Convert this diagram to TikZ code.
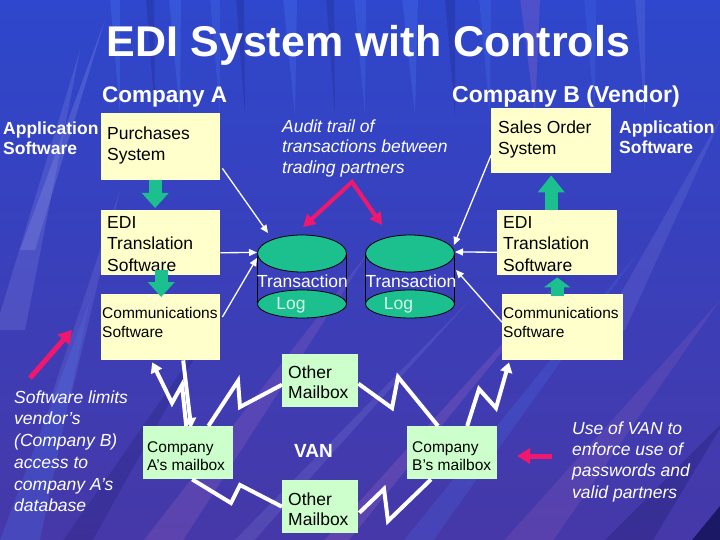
\documentclass[tikz,border=0pt]{standalone}
\usepackage{fontspec}
\setmainfont{Liberation Sans}
\usetikzlibrary{arrows.meta,calc}
\definecolor{boxy}{HTML}{FFFFCC}
\definecolor{boxg}{HTML}{CCFFCC}
\definecolor{tgreen}{HTML}{1CC08E}
\definecolor{pinkr}{HTML}{F0186E}
\definecolor{logc}{HTML}{D4F7EA}
\definecolor{bgt}{HTML}{2E47CC}
\definecolor{bgm}{HTML}{3F40B8}
\definecolor{bgb}{HTML}{4638A8}
\definecolor{lav}{HTML}{A6A8F2}
\definecolor{brightb}{HTML}{4A78F4}
\definecolor{pinkish}{HTML}{C078C8}
\definecolor{darkb}{HTML}{14145A}
% width, height, left indent, first baseline, size, leading, text
\newcommand\bxt[7]{\parbox[t][#2pt][t]{#1pt}{\fontsize{#5}{#6}\selectfont\raggedright\leftskip=#3pt\hyphenpenalty=10000\exhyphenpenalty=10000\rule{0pt}{#4pt}#7}}
\begin{document}
\begin{tikzpicture}[x=1pt,y=-1pt,
  ybox/.style={fill=boxy, inner sep=0pt, anchor=north west},
  gbox/.style={fill=boxg, inner sep=0pt, anchor=north west},
  ftext/.style={inner sep=0pt, text=white},
  garrow/.style={draw=tgreen, line width=13pt, -{Triangle[length=#1,width=26pt]}},
  garrow/.default=15pt,
  warrow/.style={draw=white, line width=1.3pt, -{Triangle[length=8pt,width=7pt]}},
  zz/.style={draw=white, line width=4pt, line join=miter},
  zztip/.style={-{Triangle[length=10pt,width=12pt]}},
  parrow/.style={draw=pinkr, line width=5pt, -{Triangle[length=13pt,width=15pt]}},
  parrowtwo/.style={draw=pinkr, line width=4pt, line join=miter, {Triangle[length=12pt,width=13pt]}-{Triangle[length=12pt,width=13pt]}},
  cylfill/.style={fill=tgreen, draw=black, line width=0.8pt},
]
\useasboundingbox (0,0) rectangle (720,540);
% ---------- background ----------
\shade[top color=bgt, middle color=bgm, bottom color=bgb] (0,0) rectangle (720,540);
\begin{scope}
\clip (0,0) rectangle (720,540);
% top vertical brush strokes
\foreach \x/\w/\c/\o in {115/5/brightb/.3, 150/4/darkb/.2, 175/6/brightb/.3, 215/5/brightb/.25, 240/4/darkb/.2,
    290/7/brightb/.3, 330/4/darkb/.18, 360/6/brightb/.28, 410/8/brightb/.3, 450/5/darkb/.2, 485/6/brightb/.25,
    530/10/pinkish/.22, 590/6/brightb/.22, 640/5/lav/.15}
  \fill[\c, opacity=\o] (\x-\w,-2) -- (\x+\w,-2) -- (\x+5,115) -- cycle;
% left lighter strokes
\fill[lav, opacity=.18] (-5,330) -- (25,330) -- (80,50) -- cycle;
\fill[lav, opacity=.22] (20,250) -- (35,250) -- (105,20) -- cycle;
\fill[lav, opacity=.15] (50,400) -- (70,400) -- (120,190) -- cycle;
\fill[brightb, opacity=.25] (0,540) -- (40,540) -- (90,300) -- cycle;
% lower diagonal strokes
\fill[pinkish, opacity=.18] (140,545) -- (180,545) -- (370,250) -- cycle;
\fill[pinkish, opacity=.2] (320,545) -- (345,545) -- (560,280) -- cycle;
\fill[pinkish, opacity=.15] (500,545) -- (550,545) -- (720,300) -- cycle;
\fill[lav, opacity=.15] (230,545) -- (250,545) -- (470,300) -- cycle;
\fill[lav, opacity=.14] (600,330) -- (625,330) -- (725,110) -- cycle;
\fill[brightb, opacity=.2] (400,545) -- (430,545) -- (640,250) -- cycle;
\fill[darkb, opacity=.25] (600,545) -- (650,545) -- (725,420) -- cycle;
\fill[darkb, opacity=.2] (60,545) -- (90,545) -- (210,330) -- cycle;
\fill[darkb, opacity=.85] (688,545) -- (725,545) -- (725,500) -- cycle;
\end{scope}
% ---------- titles ----------
\node[ftext, anchor=base] (title) at (368.5,57) {\fontsize{43}{50}\selectfont\bfseries EDI System with Controls};
\node[ftext, anchor=base west] (compa) at (102,103) {\fontsize{22.5}{26}\selectfont\bfseries Company A};
\node[ftext, anchor=base west] (compb) at (452,103) {\fontsize{23}{26}\selectfont\bfseries Company B (Vendor)};
\node[ftext, anchor=north west] (appa) at (3,115) {\bxt{100}{45}{0}{19.5}{17.5}{19.5}{\bfseries Application\\Software}};
\node[ftext, anchor=north west] (appb) at (619,114) {\bxt{100}{45}{0}{19.5}{17.5}{19.5}{\bfseries Application\\Software}};
\node[ftext, anchor=north west] (audit) at (282,113) {\bxt{200}{70}{0}{19}{17.5}{20.5}{\itshape Audit trail of\\transactions between\\trading partners}};
\node[ftext, anchor=north west] (limits) at (14,380) {\bxt{130}{140}{0}{23}{17.5}{21.7}{\itshape Software limits\\vendor’s\\(Company B)\\access to\\company A’s\\database}};
\node[ftext, anchor=north west] (usevan) at (572,410) {\bxt{140}{100}{0}{24}{17.5}{21.3}{\itshape Use of VAN to\\enforce use of\\passwords and\\valid partners}};
\node[ftext, anchor=base west] (van) at (294,457) {\fontsize{19}{22}\selectfont\bfseries VAN};
% ---------- boxes ----------
\node[ybox] (purch) at (101,113) {\bxt{119}{67}{6}{26}{17.5}{21}{Purchases\\System}};
\node[ybox] (edia) at (101,210) {\bxt{119}{65}{6}{18}{17.5}{21.5}{EDI\\Translation\\Software}};
\node[ybox] (comma) at (101,294) {\bxt{119}{66}{1}{24}{15.5}{19}{Communications\\Software}};
\node[ybox] (sales) at (491,108) {\bxt{120}{65}{7}{25}{17.5}{21}{Sales Order\\System}};
\node[ybox] (edib) at (497,210) {\bxt{120}{65}{6}{18}{17.5}{21.5}{EDI\\Translation\\Software}};
\node[ybox] (commb) at (502,294) {\bxt{121}{66}{1}{24}{15.5}{19}{Communications\\Software}};
\node[gbox] (mboxa) at (143,426) {\bxt{90}{53}{4}{26}{15.5}{18.5}{Company\\A’s mailbox}};
\node[gbox] (mboxb) at (407,426) {\bxt{90}{53}{5}{26}{15.5}{18.5}{Company\\B’s mailbox}};
\node[gbox] (oth1) at (282,354) {\bxt{76}{53}{6}{24}{17.5}{20.5}{Other\\Mailbox}};
\node[gbox] (oth2) at (282,480) {\bxt{76}{53}{6}{25}{17.5}{20}{Other\\Mailbox}};
% ---------- transaction logs ----------
\coordinate (cylA) at (302,253.5);
\coordinate (cylB) at (410,253.5);
\foreach \c in {cylA,cylB} {
  \draw[black, line width=0.8pt] ($(\c)+(-44.5,0)$) -- ++(0,50.5) ($(\c)+(44.5,0)$) -- ++(0,50.5);
  \draw[cylfill] ($(\c)+(0,50.5)$) ellipse [x radius=44.5pt, y radius=14pt];
  \draw[cylfill] (\c) ellipse [x radius=44.5pt, y radius=18.5pt];
}
\node[ftext, anchor=base] (tra) at (302.5,287) {\fontsize{17.5}{20}\selectfont Transaction};
\node[ftext, anchor=base] (trb) at (411,287) {\fontsize{17.5}{20}\selectfont Transaction};
\node[inner sep=0pt, text=logc, anchor=base] (loga) at (291,309) {\fontsize{17.5}{20}\selectfont Log};
\node[inner sep=0pt, text=logc, anchor=base] (logb) at (398.5,309) {\fontsize{17.5}{20}\selectfont Log};
\coordinate (cA1) at (268,233);
\coordinate (cA2) at (257,252.5);
\coordinate (cA3) at (257,258);
\coordinate (cB1) at (454,245);
\coordinate (cB2) at (455,252);
\coordinate (cB3) at (456,270);
% ---------- thin audit connectors ----------
\draw[warrow] ($(purch.south east)+(2,-12)$) -- (cA1);
\draw[warrow] ($(edia.east)+(0,10)$) -- (cA2);
\draw[warrow] ($(comma.north east)+(2,23)$) -- (cA3);
\draw[warrow] ($(sales.west)+(0,14.5)$) -- (cB1);
\draw[warrow] ($(edib.west)+(0,9.5)$) -- (cB2);
\draw[warrow] ($(commb.west)+(0,-5)$) -- (cB3);
% ---------- green block arrows ----------
\draw[garrow] ($(purch.south)+(-5.5,0)$) -- ($(edia.north)+(-5.5,-2)$);
\draw[garrow] ($(edia.south)+(0.5,-5)$) -- ($(comma.north)+(0.5,3)$);
\draw[garrow=17pt] (edib.north -| sales.south) -- ($(sales.south)+(0,2)$);
\draw[garrow=10pt] ($(commb.north)+(-5.5,2)$) -- ($(edib.south)+(0,2)$);
% ---------- VAN zigzags ----------
\draw[zz,zztip] ($(mboxa.north)+(-2,0)$) -- (182,385) -- (172,403) -- ($(comma.south)+(-8.5,2)$);
\draw[zz,zztip] ($(comma.south)+(22.5,0)$) -- ($(mboxa.north)+(3,2)$);
\draw[zz] ($(mboxa.north east)+(-25,0)$) -- (238,381) -- (240,407) -- ($(oth1.west)+(0,4)$);
\draw[zz] ($(mboxa.south)+(4,0)$) -- (231,503) -- (240,485) -- (oth2.west);
\draw[zz] ($(oth1.east)+(0,3)$) -- (392,408) -- (398,377) -- ($(mboxb.north west)+(31,0)$);
\draw[zz] ($(oth2.east)+(1,6)$) -- (384,489) -- (388,521) -- ($(mboxb.south west)+(24,0)$);
\draw[zz,zztip] ($(mboxb.north)+(15,0)$) -- (479,389) -- (496,408) -- ($(commb.south west)+(7,2)$);
% ---------- pink pointers ----------
\coordinate (auL) at (303,227);
\coordinate (auA) at (352,182);
\coordinate (auR) at (382,225);
\draw[parrowtwo] (auL) -- (auA) -- (auR);
\coordinate (pkAs) at (30,378);
\coordinate (pkAe) at (72,330);
\draw[parrow] (pkAs) -- (pkAe);
\coordinate (pkBs) at (552,456);
\coordinate (pkBe) at (517,456);
\draw[parrow] (pkBs) -- (pkBe);
\end{tikzpicture}
\end{document}
